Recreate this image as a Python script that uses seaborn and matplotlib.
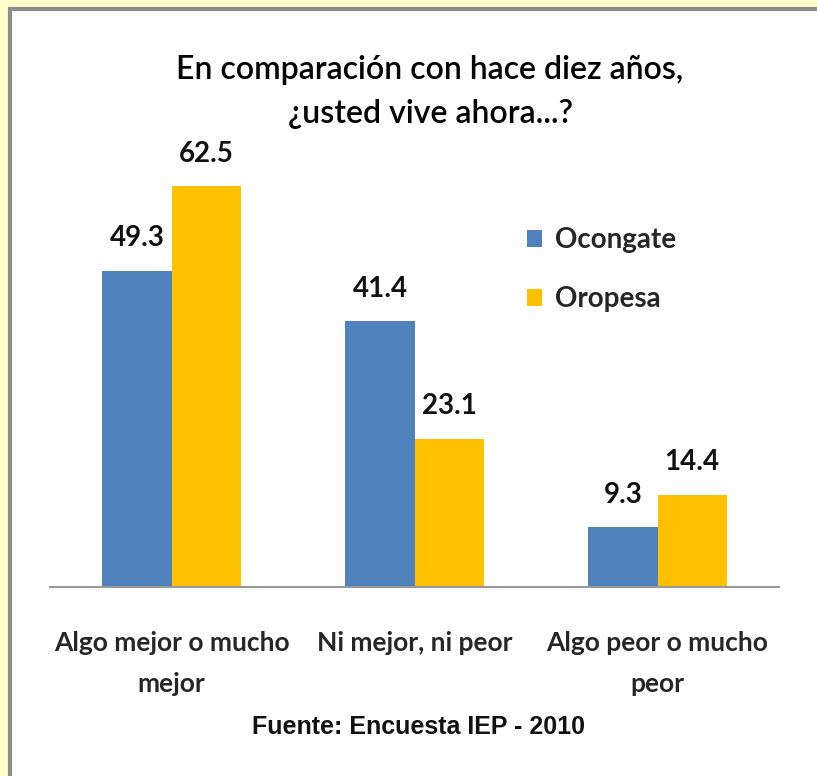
import matplotlib
matplotlib.use("Agg")
import matplotlib.pyplot as plt
import seaborn as sns
import pandas as pd
from matplotlib.patches import Rectangle

categories = ["Algo mejor o mucho\nmejor", "Ni mejor, ni peor", "Algo peor o mucho\npeor"]
series_names = ["Ocongate", "Oropesa"]
ocongate = [49.3, 41.4, 9.3]
oropesa = [62.5, 23.1, 14.4]
colors = ["#4F81BD", "#FFC000"]
title = "En comparación con hace diez años,\n¿usted vive ahora...?"
source = "Fuente: Encuesta IEP - 2010"

df = pd.DataFrame({
    "cat": categories * 2,
    "serie": [series_names[0]] * 3 + [series_names[1]] * 3,
    "val": ocongate + oropesa,
})

sns.set_theme(style="white")
plt.rcParams["font.family"] = ["Lato", "DejaVu Sans"]

W, H = 817, 776
fig = plt.figure(figsize=(W / 100, H / 100), dpi=100, facecolor="#FFFFCC")
fig.patches.append(Rectangle((10 / W, -0.05), 1.2, (H - 9) / H + 0.05, transform=fig.transFigure,
                             facecolor="white", edgecolor="#8C8C8C", linewidth=3, zorder=-1))

ax = fig.add_axes([50 / W, (H - 587) / H, (779 - 50) / W, 449 / H])
ax.set_facecolor("none")
sns.barplot(data=df, x="cat", y="val", hue="serie", palette=colors, width=0.568,
            saturation=1, ax=ax, legend=True, errorbar=None, linewidth=0)
ax.set_ylim(0, 70)
ax.set_xlim(-0.5, 2.5)
for s in ["top", "right", "left"]:
    ax.spines[s].set_visible(False)
ax.spines["bottom"].set_color("#999999")
ax.spines["bottom"].set_linewidth(1.5)
ax.set_yticks([])
ax.set_xlabel("")
ax.set_ylabel("")
ax.tick_params(axis="x", length=0, pad=32)
for t in ax.get_xticklabels():
    t.set_fontsize(19)
    t.set_fontweight("bold")
    t.set_linespacing(1.85)
    t.set_va("top")

for cont in ax.containers:
    ax.bar_label(cont, fmt="%.1f", padding=14, fontsize=20, fontweight="bold", color="#111111")

leg = ax.legend(loc="upper left", bbox_to_anchor=((502 - 50) / (779 - 50), (587 - 202) / 449),
                frameon=False, fontsize=20, handlelength=0.55, handleheight=0.55,
                labelspacing=1.2, handletextpad=0.45)
for t in leg.get_texts():
    t.set_fontweight("bold")

fig.text(430 / W, 1 - 92 / H, title, ha="center", va="center", fontsize=23,
         fontweight="semibold", linespacing=1.55, color="#000000")
fig.text(418 / W, 1 - 727 / H, source, ha="center", va="center", fontsize=18,
         fontweight="bold", family=["Liberation Sans", "DejaVu Sans"], color="#111111")

fig.savefig("out.png", dpi=100, facecolor=fig.get_facecolor())
